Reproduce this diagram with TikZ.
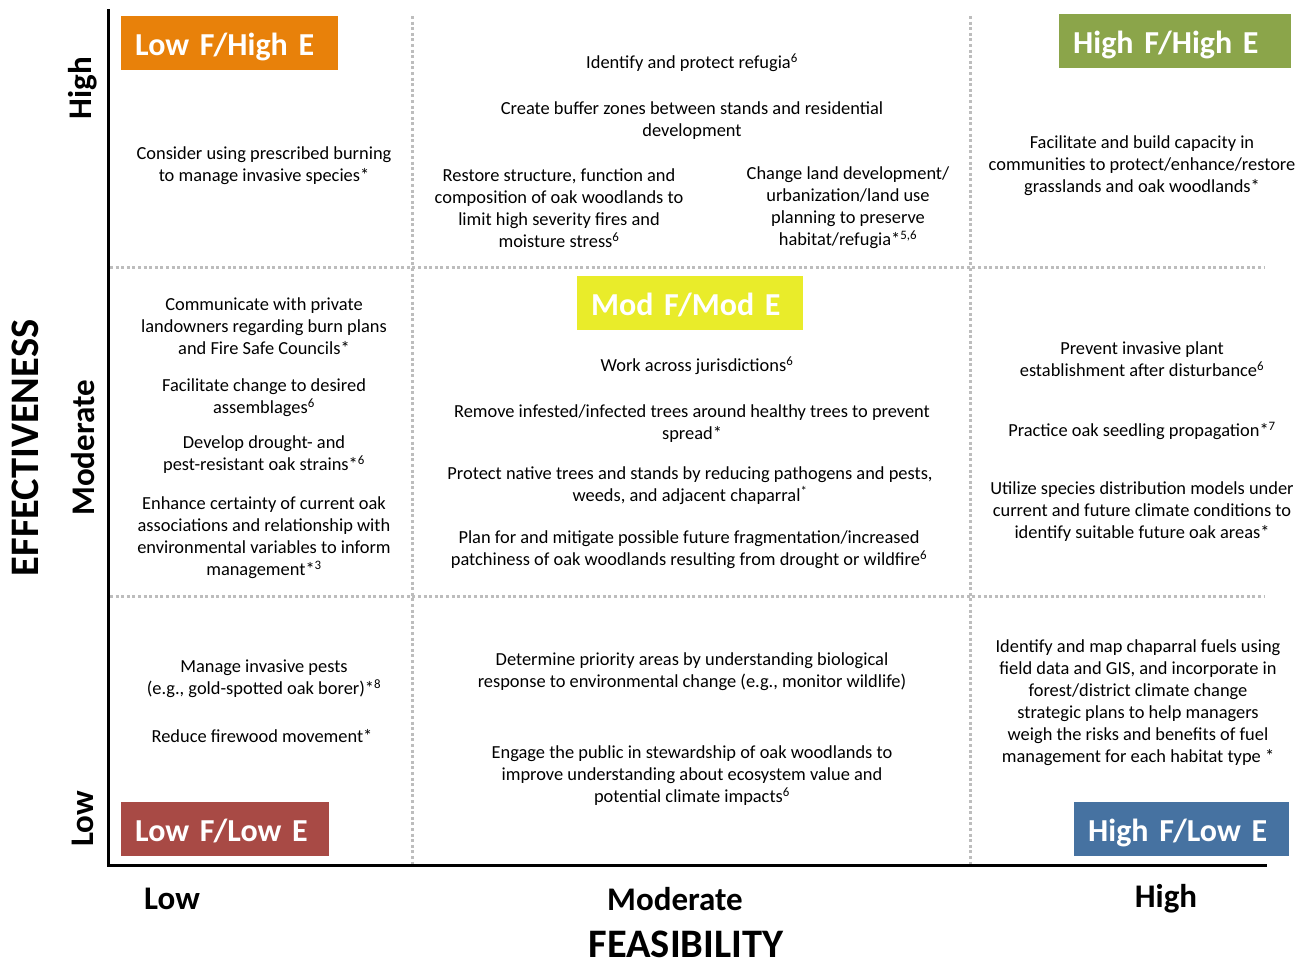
\documentclass[tikz,border=0pt]{standalone}
\usepackage{fontspec}
\setmainfont{Carlito}
\definecolor{cOrange}{HTML}{E8810A}
\definecolor{cGreen}{HTML}{8BA54A}
\definecolor{cYellow}{HTML}{E9EC2A}
\definecolor{cRed}{HTML}{A84A45}
\definecolor{cBlue}{HTML}{4672A1}
\definecolor{cDot}{HTML}{BDBDBD}
\tikzset{
  body/.style={align=center, inner sep=0pt, font=\fontsize{18.4}{22}\selectfont},
  tag/.style={anchor=north west, inner ysep=0pt, inner xsep=14pt, align=left,
    text=white, font=\fontsize{32}{34}\selectfont\bfseries, minimum height=54pt,
    text height=24pt, text depth=0pt},
  axlab/.style={font=\fontsize{33}{36}\selectfont\bfseries, inner sep=0pt},
  axtitle/.style={font=\fontsize{40.5}{42}\selectfont\bfseries, inner sep=0pt},
  grid/.style={cDot, line width=3pt, dash pattern=on 3pt off 2.6pt},
  axis/.style={black, line width=3pt}
}
\begin{document}
\begin{tikzpicture}[x=1pt, y=-1pt]
\useasboundingbox (0,0) rectangle (1303,964);
% grid
\coordinate (v1t) at (412,16); \coordinate (v1b) at (412,866);
\coordinate (v2t) at (970,16); \coordinate (v2b) at (970,866);
\coordinate (h1l) at (110,267); \coordinate (h1r) at (1265,267);
\coordinate (h2l) at (110,596); \coordinate (h2r) at (1265,596);
\draw[grid] (v1t) -- (v1b);
\draw[grid] (v2t) -- (v2b);
\draw[grid] (h1l) -- (h1r);
\draw[grid] (h2l) -- (h2r);
% axes
\coordinate (ytop) at (108,9);
\coordinate (orig) at (108,865);
\coordinate (xend) at (1267,865);
\draw[axis] (ytop) -- (orig) -- (xend);
% tags
\node[tag, fill=cOrange, text width=189pt] (t1) at (121,16) {Low F/High E};
\node[tag, fill=cGreen, text width=204pt] (t2) at (1059,14) {High F/High E};
\node[tag, fill=cYellow, text width=198pt] (t3) at (577,276) {Mod F/Mod E};
\node[tag, fill=cRed, text width=180pt] (t4) at (121,802) {Low F/Low E};
\node[tag, fill=cBlue, text width=187pt] (t5) at (1074,802) {High F/Low E};
% axis labels
\node[axlab, rotate=90] (eh) at (83,88) {High};
\node[axlab, rotate=90] (em) at (83,448) {Moderate};
\node[axlab, rotate=90] (el) at (83,819) {Low};
\node[axtitle, rotate=90] (et) at (25,448) {EFFECTIVENESS};
\node[axlab] (fl) at (172,899) {Low};
\node[axlab] (fm) at (675,899) {Moderate};
\node[axlab] (fh) at (1166,899) {High};
\node[axtitle] (ft) at (686,944) {FEASIBILITY};
% column 1
\node[body] (a1) at (264,166) {Consider using prescribed burning\\to manage invasive species*};
\node[body] (a2) at (264,326) {Communicate with private\\landowners regarding burn plans\\and Fire Safe Councils*};
\node[body] (a3) at (264,398) {Facilitate change to desired\\assemblages\textsuperscript{6}};
\node[body] (a4) at (264,455) {Develop drought- and\\pest-resistant oak strains*\textsuperscript{6}};
\node[body] (a5) at (264,538) {Enhance certainty of current oak\\associations and relationship with\\environmental variables to inform\\management*\textsuperscript{3}};
\node[body] (a6) at (264,679) {Manage invasive pests\\(e.g., gold-spotted oak borer)*\textsuperscript{8}};
\node[body] (a7) at (262,736) {Reduce firewood movement*};
% column 2
\node[body] (b1) at (692,63) {Identify and protect refugia\textsuperscript{6}};
\node[body] (b2) at (692,121) {Create buffer zones between stands and residential\\development};
\node[body] (b3) at (559,208) {Restore structure, function and\\composition of oak woodlands to\\limit high severity fires and\\moisture stress\textsuperscript{6}};
\node[body] (b4) at (848,208) {Change land development/\\urbanization/land use\\planning to preserve\\habitat/refugia*\textsuperscript{5,6}};
\node[body] (b5) at (697,366) {Work across jurisdictions\textsuperscript{6}};
\node[body] (b6) at (692,424) {Remove infested/infected trees around healthy trees to prevent\\spread*};
\node[body] (b7) at (690,486) {Protect native trees and stands by reducing pathogens and pests,\\weeds, and adjacent chaparral\textsuperscript{*}};
\node[body] (b8) at (689,550) {Plan for and mitigate possible future fragmentation/increased\\patchiness of oak woodlands resulting from drought or wildfire\textsuperscript{6}};
\node[body] (b9) at (692,672) {Determine priority areas by understanding biological\\response to environmental change (e.g., monitor wildlife)};
\node[body] (b10) at (692,776) {Engage the public in stewardship of oak woodlands to\\improve understanding about ecosystem value and\\potential climate impacts\textsuperscript{6}};
% column 3
\node[body] (c1) at (1142,166) {Facilitate and build capacity in\\communities to protect/enhance/restore\\grasslands and oak woodlands*};
\node[body] (c2) at (1142,359) {Prevent invasive plant\\establishment after disturbance\textsuperscript{6}};
\node[body] (c3) at (1142,431) {Practice oak seedling propagation*\textsuperscript{7}};
\node[body] (c4) at (1142,512) {Utilize species distribution models under\\current and future climate conditions to\\identify suitable future oak areas*};
\node[body] (c5) at (1138,703) {Identify and map chaparral fuels using\\field data and GIS, and incorporate in\\forest/district climate change\\strategic plans to help managers\\weigh the risks and benefits of fuel\\management for each habitat type *};
\end{tikzpicture}
\end{document}
